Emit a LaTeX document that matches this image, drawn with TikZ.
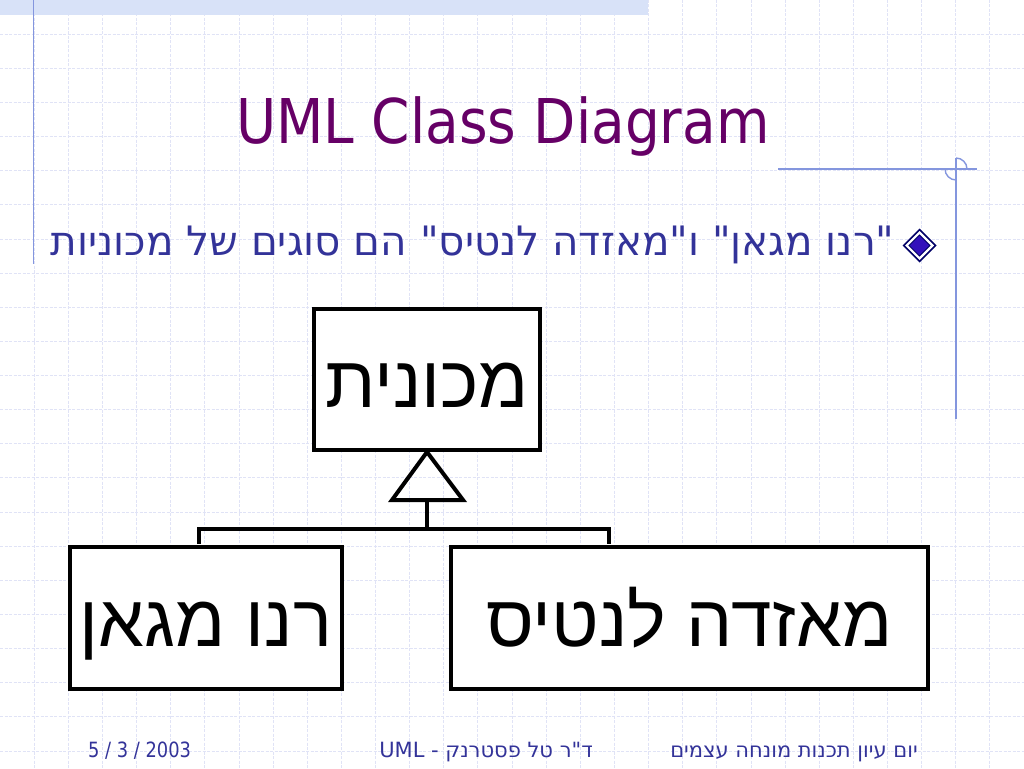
\documentclass[tikz,border=0pt]{standalone}
\usepackage{fontspec}
\setmainfont{DejaVu Sans}
\newfontfamily\titleFont[FakeStretch=0.89]{DejaVu Sans}
\newfontfamily\bulletFont[Script=Hebrew]{DejaVu Sans}
\newfontfamily\boxFont[Script=Hebrew]{Liberation Sans}
\newfontfamily\dateFont[FakeStretch=0.85]{DejaVu Sans}
\newfontfamily\footFont[Script=Hebrew]{DejaVu Sans}
\TeXXeTstate=1

\definecolor{titlePurple}{HTML}{660066}
\definecolor{bulletBlue}{HTML}{333399}
\definecolor{frameBlue}{HTML}{8496DE}
\definecolor{gridBlue}{RGB}{224,227,246}
\definecolor{bandBlue}{RGB}{216,226,248}
\definecolor{diamondNavy}{HTML}{000066}
\definecolor{diamondBlue}{HTML}{3311BB}

\newcommand{\gridStep}{34.133}
\newcommand{\umlThick}{4pt}

\tikzset{
  gridline/.style  = {line width=0.8pt, gridBlue, dash pattern=on 3pt off 1.5pt},
  frameline/.style = {line width=1.4pt, frameBlue},
  umlclass/.style  = {draw, line width=\umlThick, fill=white, inner sep=0pt,
                      text height=56pt, text depth=0pt,
                      font=\boxFont\fontsize{73}{80}\selectfont},
  umlline/.style   = {line width=\umlThick, black, line join=miter},
  footer/.style    = {inner sep=0pt, text=bulletBlue, font=\footFont\fontsize{21}{24}\selectfont},
}

\begin{document}
\begin{tikzpicture}[x=1pt, y=-1pt]

  \useasboundingbox[fill=white] (0,0) rectangle (1024,768);

  % Grid:
  \foreach \k in {1,...,29}
    \draw[gridline] (\k*\gridStep, 0) -- (\k*\gridStep, 768);
  \foreach \k in {1,...,22}
    \draw[gridline] (0, \k*\gridStep) -- (1024, \k*\gridStep);

  % Top band:
  \fill[bandBlue] (0,0) rectangle (648,15);

  % Frame lines:
  \draw[frameline] (33.5,0) -- (33.5,264);
  \draw[frameline] (778,169) -- (977,169);
  \draw[frameline] (956,158) -- (956,419);
  \draw[frameline] (956,158) arc (-90:0:11);
  \draw[frameline] (945,169) arc (180:90:11);

  % Title:
  \node[anchor=base, inner sep=0pt, text=titlePurple,
        font=\titleFont\fontsize{61.7}{70}\selectfont] (title) at (503,143) {UML Class Diagram};

  % Bullet:
  \coordinate (bul) at (919.5,245.5);
  \fill[diamondNavy] (bul) ++(0,-17)   -- ++(17,17)     -- ++(-17,17)     -- ++(-17,-17)     -- cycle;
  \fill[white]       (bul) ++(0,-14.5) -- ++(14.5,14.5) -- ++(-14.5,14.5) -- ++(-14.5,-14.5) -- cycle;
  \filldraw[fill=diamondBlue, draw=diamondNavy, line width=1pt]
                     (bul) ++(0,-10.5) -- ++(10.5,10.5) -- ++(-10.5,10.5) -- ++(-10.5,-10.5) -- cycle;
  \node[anchor=base east, inner sep=0pt, text=bulletBlue,
        font=\bulletFont\fontsize{40.5}{46}\selectfont] (bullet) at (895,255)
        {\beginR"רנו מגאן" ו"מאזדה לנטיס" הם סוגים של מכוניות\endR};

  % Classes:
  \node[umlclass, minimum width=226, minimum height=141] (car)   at (427,379.5) {\beginR מכונית\endR};
  \node[umlclass, minimum width=272, minimum height=142] (reno)  at (206,618)   {\beginR רנו מגאן\endR};
  \node[umlclass, minimum width=477, minimum height=142] (mazda) at (689.5,618) {\beginR מאזדה לנטיס\endR};

  % Generalization:
  \coordinate (triBase) at (427,500);
  \coordinate (bar)     at (427,529);
  \coordinate (renoTop)  at (199,544);
  \coordinate (mazdaTop) at (609,544);
  \draw[umlline] (car.south) -- (392,500) -- (463,500) -- cycle;
  \draw[umlline] (triBase) -- (bar);
  \draw[umlline] (renoTop) |- (bar) -| (mazdaTop);

  % Footer:
  \node[footer, anchor=base west, font=\dateFont\fontsize{21}{24}\selectfont] (date) at (88,757) {5 / 3 / 2003};
  \node[footer, anchor=base east] (author) at (593,757)
        {\beginR ד"ר טל פסטרנק - \beginL UML\endL\endR};
  \node[footer, anchor=base east] (event)  at (918,757)
        {\beginR יום עיון תכנות מונחה עצמים\endR};

\end{tikzpicture}
\end{document}
